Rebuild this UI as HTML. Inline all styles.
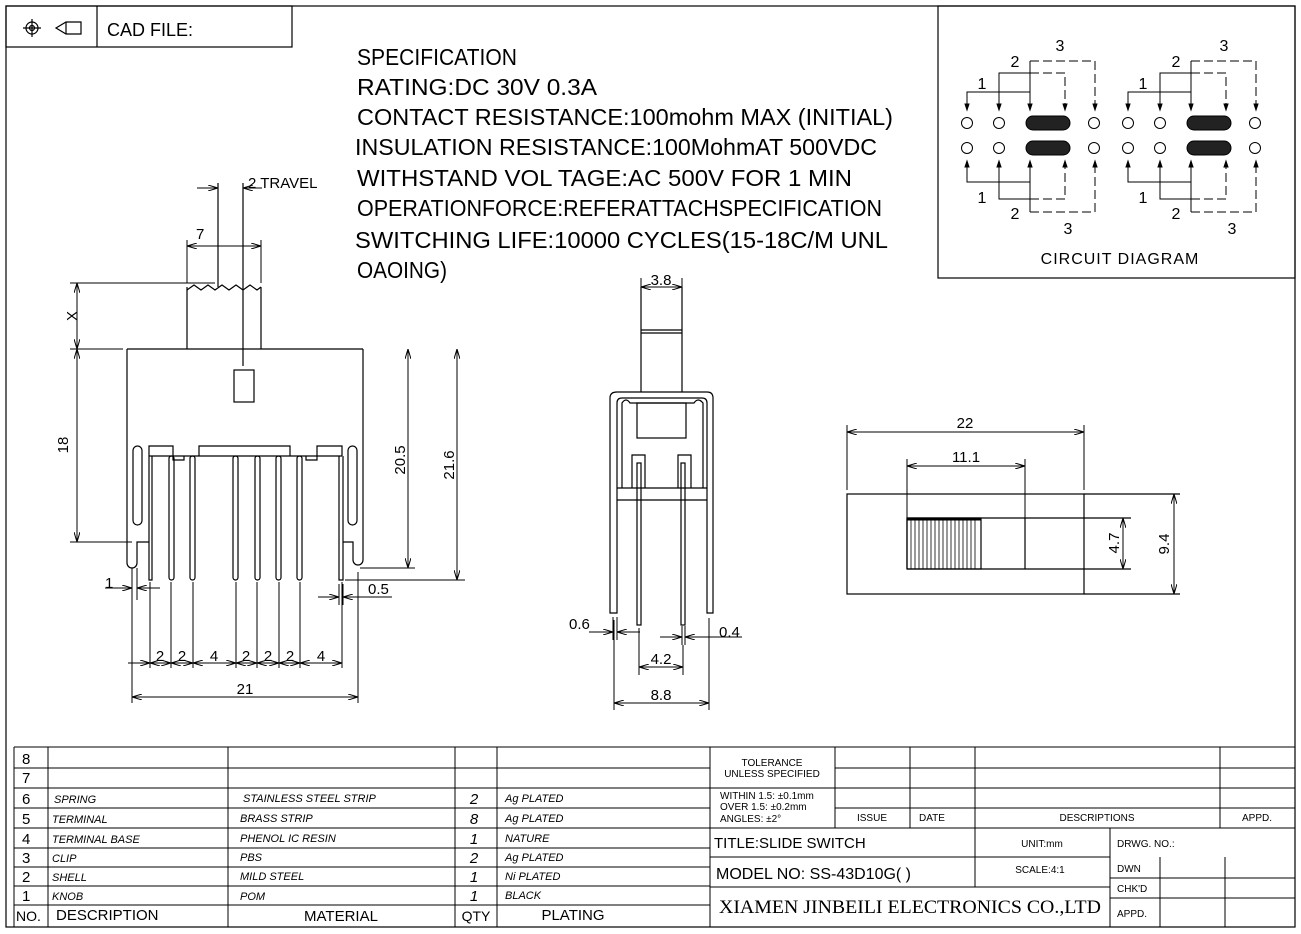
<!DOCTYPE html>
<html><head><meta charset="utf-8"><style>
html,body{margin:0;padding:0;background:#fff;}
svg{display:block;}
text{font-family:"Liberation Sans",sans-serif;fill:#000;}
</style></head><body>
<svg width="1301" height="934" viewBox="0 0 1301 934" xmlns="http://www.w3.org/2000/svg">
<defs>
<marker id="a" viewBox="0 0 10 6" refX="10" refY="3" markerWidth="10" markerHeight="6" markerUnits="userSpaceOnUse" orient="auto-start-reverse">
<path d="M0,0 L10,3 L0,6" fill="none" stroke="#000" stroke-width="1"/>
</marker>
</defs>
<g fill="none" stroke="#000" stroke-width="1.2">
<!-- frame -->
<rect x="6" y="6" width="1289" height="921"/>
<rect x="6" y="6" width="286" height="41"/>
<line x1="97" y1="6" x2="97" y2="47"/>
<rect x="938" y="6" width="357" height="272"/>
<!-- icons -->
<circle cx="32" cy="28" r="6"/><circle cx="32" cy="28" r="2.5"/>
<line x1="23" y1="28" x2="41" y2="28"/><line x1="32" y1="19" x2="32" y2="37"/>
<path d="M56,28 L66,22 H81 V34 H66 Z"/><line x1="66" y1="22" x2="66" y2="34"/>
</g>
<text x="107" y="36" font-size="18">CAD FILE:</text>

<!-- spec -->
<g font-size="23">
<text x="357" y="65" textLength="160" lengthAdjust="spacingAndGlyphs">SPECIFICATION</text>
<text x="357" y="95" textLength="240" lengthAdjust="spacingAndGlyphs">RATING:DC 30V 0.3A</text>
<text x="357" y="125" textLength="536" lengthAdjust="spacingAndGlyphs">CONTACT RESISTANCE:100mohm MAX (INITIAL)</text>
<text x="355" y="155" textLength="522" lengthAdjust="spacingAndGlyphs">INSULATION RESISTANCE:100MohmAT 500VDC</text>
<text x="357" y="186" textLength="495" lengthAdjust="spacingAndGlyphs">WITHSTAND VOL TAGE:AC 500V FOR 1 MIN</text>
<text x="357" y="216" textLength="525" lengthAdjust="spacingAndGlyphs">OPERATIONFORCE:REFERATTACHSPECIFICATION</text>
<text x="355" y="248" textLength="533" lengthAdjust="spacingAndGlyphs">SWITCHING LIFE:10000 CYCLES(15-18C/M UNL</text>
<text x="357" y="278" textLength="90" lengthAdjust="spacingAndGlyphs">OAOING)</text>
</g>

<!-- LEFT VIEW -->
<g fill="none" stroke="#000" stroke-width="1.2">
<line x1="127" y1="349" x2="363" y2="349"/>
<path d="M127,349 V563 A5,5 0 0 0 137,563 V542 H149"/>
<path d="M363,349 V560 A5,5 0 0 1 353,560 V542 H343"/>
<line x1="187" y1="287" x2="187" y2="349"/>
<line x1="261" y1="287" x2="261" y2="349"/>
<path d="M187,290 L194,285 L201,290 L208,285 L215,290 L222,285 L229,290 L236,285 L243,290 L250,285 L257,290 L261,287"/>
<line x1="243" y1="183" x2="243" y2="366"/>
<line x1="218" y1="183" x2="218" y2="287"/>
<rect x="234" y="370" width="20" height="32"/>
<!-- base -->
<path d="M149,456 V446 H173 V456 M173,456 V460 H184 V456 M199,456 V446 H290 V456 M306,456 V460 H317 V456 M317,456 V446 H342 V456"/>
<line x1="149" y1="456" x2="342" y2="456"/>
<rect x="133" y="446" width="9" height="79" rx="4.5"/>
<rect x="348" y="446" width="9" height="79" rx="4.5"/>
<path d="M149,456 V580 H152 V456"/>
<rect x="169" y="456" width="5" height="124" rx="2.5"/>
<rect x="190" y="456" width="5" height="124" rx="2.5"/>
<rect x="233" y="456" width="5" height="124" rx="2.5"/>
<rect x="255" y="456" width="5" height="124" rx="2.5"/>
<rect x="276" y="456" width="5" height="124" rx="2.5"/>
<rect x="297" y="456" width="5" height="124" rx="2.5"/>
<path d="M339,456 V580 H343 V456"/>
</g>
<g fill="none" stroke="#000" stroke-width="1">
<!-- travel / 7 / X dims -->
<line x1="197" y1="188" x2="218" y2="188" marker-end="url(#a)"/>
<line x1="262" y1="188" x2="243" y2="188" marker-end="url(#a)"/>
<line x1="187" y1="240" x2="187" y2="283"/><line x1="261" y1="240" x2="261" y2="283"/>
<line x1="187" y1="246" x2="261" y2="246" marker-start="url(#a)" marker-end="url(#a)"/>
<line x1="70" y1="283" x2="215" y2="283"/>
<line x1="70" y1="349" x2="123" y2="349"/>
<line x1="77" y1="283" x2="77" y2="349" marker-start="url(#a)" marker-end="url(#a)"/>
<line x1="77" y1="349" x2="77" y2="542" marker-start="url(#a)" marker-end="url(#a)"/>
<line x1="70" y1="542" x2="132" y2="542"/>
<line x1="408" y1="349" x2="408" y2="568" marker-start="url(#a)" marker-end="url(#a)"/>
<line x1="457" y1="349" x2="457" y2="580" marker-start="url(#a)" marker-end="url(#a)"/>
<line x1="360" y1="568" x2="415" y2="568"/>
<line x1="345" y1="580" x2="465" y2="580"/>
<!-- 1 and 0.5 -->
<line x1="132" y1="568" x2="132" y2="600"/><line x1="137" y1="568" x2="137" y2="600"/>
<line x1="105" y1="588" x2="132" y2="588" marker-end="url(#a)"/>
<line x1="160" y1="588" x2="137" y2="588" marker-end="url(#a)"/>
<line x1="339" y1="584" x2="339" y2="605"/><line x1="343" y1="584" x2="343" y2="605"/>
<line x1="318" y1="597" x2="339" y2="597" marker-end="url(#a)"/>
<line x1="392" y1="597" x2="343" y2="597" marker-end="url(#a)"/>
<!-- pin dims -->
<line x1="132" y1="582" x2="132" y2="703"/>
<line x1="150" y1="582" x2="150" y2="668"/>
<line x1="171" y1="582" x2="171" y2="668"/>
<line x1="193" y1="582" x2="193" y2="668"/>
<line x1="236" y1="582" x2="236" y2="668"/>
<line x1="257" y1="582" x2="257" y2="668"/>
<line x1="279" y1="582" x2="279" y2="668"/>
<line x1="300" y1="582" x2="300" y2="668"/>
<line x1="342" y1="582" x2="342" y2="668"/>
<line x1="358" y1="572" x2="358" y2="703"/>
<line x1="128" y1="663" x2="150" y2="663" marker-end="url(#a)"/>
<line x1="150" y1="663" x2="171" y2="663" marker-start="url(#a)" marker-end="url(#a)"/>
<line x1="171" y1="663" x2="193" y2="663" marker-start="url(#a)" marker-end="url(#a)"/>
<line x1="193" y1="663" x2="236" y2="663" marker-start="url(#a)" marker-end="url(#a)"/>
<line x1="236" y1="663" x2="257" y2="663" marker-start="url(#a)" marker-end="url(#a)"/>
<line x1="257" y1="663" x2="279" y2="663" marker-start="url(#a)" marker-end="url(#a)"/>
<line x1="279" y1="663" x2="300" y2="663" marker-start="url(#a)" marker-end="url(#a)"/>
<line x1="300" y1="663" x2="342" y2="663" marker-start="url(#a)" marker-end="url(#a)"/>
<line x1="132" y1="697" x2="358" y2="697" marker-start="url(#a)" marker-end="url(#a)"/>
</g>
<g font-size="15">
<text x="248" y="188">2 TRAVEL</text>
<text x="196" y="239">7</text>
<text x="73" y="316" transform="rotate(-90 73 316)" text-anchor="middle" dominant-baseline="middle">X</text>
<text x="68" y="445" transform="rotate(-90 68 445)" text-anchor="middle">18</text>
<text x="405" y="460" transform="rotate(-90 405 460)" text-anchor="middle">20.5</text>
<text x="454" y="465" transform="rotate(-90 454 465)" text-anchor="middle">21.6</text>
<text x="105" y="588">1</text>
<text x="368" y="594">0.5</text>
<text x="160" y="661" text-anchor="middle">2</text>
<text x="182" y="661" text-anchor="middle">2</text>
<text x="214" y="661" text-anchor="middle">4</text>
<text x="246" y="661" text-anchor="middle">2</text>
<text x="268" y="661" text-anchor="middle">2</text>
<text x="290" y="661" text-anchor="middle">2</text>
<text x="321" y="661" text-anchor="middle">4</text>
<text x="245" y="694" text-anchor="middle">21</text>
</g>

<!-- MIDDLE VIEW -->
<g fill="none" stroke="#000" stroke-width="1.2">
<path d="M641,392 V287 M682,287 V392"/>
<line x1="641" y1="330" x2="682" y2="330"/><line x1="641" y1="333" x2="682" y2="333"/>
<path d="M610,613 V398 Q610,392 617,392 H707 Q713,392 713,398 V613 H707 V403 Q707,398 702,398 H622 Q617,398 617,403 V613 Z"/>
<path d="M622,488 V403 Q626,397 630,403 L632,403 H692 L694,403 Q698,397 703,403 V488"/>
<rect x="637" y="403" width="49" height="35"/>
<line x1="617" y1="488" x2="707" y2="488"/>
<line x1="617" y1="500" x2="707" y2="500"/>
<path d="M632,488 V455 H645 V488 M678,488 V455 H691 V488"/>
<rect x="637" y="463" width="4" height="162"/>
<rect x="681" y="463" width="4" height="162"/>
</g>
<g fill="none" stroke="#000" stroke-width="1">
<line x1="641" y1="278" x2="641" y2="287"/><line x1="682" y1="278" x2="682" y2="287"/>
<line x1="641" y1="287" x2="682" y2="287" marker-start="url(#a)" marker-end="url(#a)"/>
<line x1="613" y1="617" x2="613" y2="640"/><line x1="617" y1="617" x2="617" y2="640"/>
<line x1="589" y1="632" x2="613" y2="632" marker-end="url(#a)"/>
<line x1="640" y1="632" x2="617" y2="632" marker-end="url(#a)"/>
<line x1="682" y1="626" x2="682" y2="645"/><line x1="685" y1="626" x2="685" y2="645"/>
<line x1="660" y1="637" x2="682" y2="637" marker-end="url(#a)"/>
<line x1="742" y1="637" x2="685" y2="637" marker-end="url(#a)"/>
<line x1="639" y1="628" x2="639" y2="675"/><line x1="683" y1="645" x2="683" y2="675"/>
<line x1="639" y1="667" x2="683" y2="667" marker-start="url(#a)" marker-end="url(#a)"/>
<line x1="614" y1="620" x2="614" y2="710"/><line x1="709" y1="618" x2="709" y2="710"/>
<line x1="614" y1="703" x2="709" y2="703" marker-start="url(#a)" marker-end="url(#a)"/>
</g>
<g font-size="15">
<text x="661" y="285" text-anchor="middle">3.8</text>
<text x="569" y="629">0.6</text>
<text x="719" y="637">0.4</text>
<text x="661" y="664" text-anchor="middle">4.2</text>
<text x="661" y="700" text-anchor="middle">8.8</text>
</g>

<!-- RIGHT VIEW -->
<g fill="none" stroke="#000" stroke-width="1.2">
<rect x="847" y="494" width="237" height="100"/>
<line x1="1084" y1="494" x2="1180" y2="494"/>
<line x1="1084" y1="594" x2="1180" y2="594"/>
<path d="M907,518 H1131 M907,569 H1131 M907,518 V569 M1025,518 V569"/>
<rect x="907" y="518" width="74" height="51"/>
<line x1="907" y1="519" x2="981" y2="519" stroke-width="3"/>
</g>
<g stroke="#000" stroke-width="0.8">
<line x1="911" y1="520" x2="911" y2="569"/><line x1="915" y1="520" x2="915" y2="569"/>
<line x1="919" y1="520" x2="919" y2="569"/><line x1="923" y1="520" x2="923" y2="569"/>
<line x1="927" y1="520" x2="927" y2="569"/><line x1="931" y1="520" x2="931" y2="569"/>
<line x1="935" y1="520" x2="935" y2="569"/><line x1="939" y1="520" x2="939" y2="569"/>
<line x1="943" y1="520" x2="943" y2="569"/><line x1="947" y1="520" x2="947" y2="569"/>
<line x1="951" y1="520" x2="951" y2="569"/><line x1="955" y1="520" x2="955" y2="569"/>
<line x1="959" y1="520" x2="959" y2="569"/><line x1="963" y1="520" x2="963" y2="569"/>
<line x1="967" y1="520" x2="967" y2="569"/><line x1="971" y1="520" x2="971" y2="569"/>
<line x1="975" y1="520" x2="975" y2="569"/>
</g>
<g fill="none" stroke="#000" stroke-width="1">
<line x1="847" y1="425" x2="847" y2="490"/><line x1="1084" y1="425" x2="1084" y2="490"/>
<line x1="847" y1="432" x2="1084" y2="432" marker-start="url(#a)" marker-end="url(#a)"/>
<line x1="907" y1="459" x2="907" y2="518"/><line x1="1025" y1="459" x2="1025" y2="518"/>
<line x1="907" y1="466" x2="1025" y2="466" marker-start="url(#a)" marker-end="url(#a)"/>
<line x1="1123" y1="518" x2="1123" y2="569" marker-start="url(#a)" marker-end="url(#a)"/>
<line x1="1174" y1="494" x2="1174" y2="594" marker-start="url(#a)" marker-end="url(#a)"/>
</g>
<g font-size="15">
<text x="965" y="428" text-anchor="middle">22</text>
<text x="966" y="462" text-anchor="middle">11.1</text>
<text x="1119" y="543" transform="rotate(-90 1119 543)" text-anchor="middle">4.7</text>
<text x="1169" y="544" transform="rotate(-90 1169 544)" text-anchor="middle">9.4</text>
</g>

<!-- CIRCUIT -->
<g id="cd" fill="none" stroke="#000" stroke-width="1">
<circle cx="967" cy="123" r="5.5"/><circle cx="999" cy="123" r="5.5"/><circle cx="1094" cy="123" r="5.5"/>
<circle cx="967" cy="148" r="5.5"/><circle cx="999" cy="148" r="5.5"/><circle cx="1094" cy="148" r="5.5"/>
<rect x="1026" y="116" width="44" height="14" rx="7" fill="#222"/>
<rect x="1026" y="141" width="44" height="14" rx="7" fill="#222"/>
<path d="M967,108 V92 H1030 M999,108 V73 H1030 M1030,108 V61"/>
<path d="M1030,73 H1065 V108 M1030,61 H1095 V108" stroke-dasharray="9,4"/>
<path d="M967,163 V182 H1030 M999,163 V199 H1030 M1030,163 V212"/>
<path d="M1030,199 H1065 V163 M1030,212 H1095 V163" stroke-dasharray="9,4"/>
<path d="M965,104 L967,110 L969,104 Z M997,104 L999,110 L1001,104 Z M1028,104 L1030,110 L1032,104 Z M1063,104 L1065,110 L1067,104 Z M1093,104 L1095,110 L1097,104 Z" fill="#000"/>
<path d="M965,167 L967,161 L969,167 Z M997,167 L999,161 L1001,167 Z M1028,167 L1030,161 L1032,167 Z M1063,167 L1065,161 L1067,167 Z M1093,167 L1095,161 L1097,167 Z" fill="#000"/>
</g>
<use href="#cd" transform="translate(161,0)"/>
<g font-size="16">
<text x="982" y="89" text-anchor="middle">1</text><text x="1015" y="67" text-anchor="middle">2</text><text x="1060" y="51" text-anchor="middle">3</text>
<text x="982" y="203" text-anchor="middle">1</text><text x="1015" y="219" text-anchor="middle">2</text><text x="1068" y="234" text-anchor="middle">3</text>
<text x="1143" y="89" text-anchor="middle">1</text><text x="1176" y="67" text-anchor="middle">2</text><text x="1224" y="51" text-anchor="middle">3</text>
<text x="1143" y="203" text-anchor="middle">1</text><text x="1176" y="219" text-anchor="middle">2</text><text x="1232" y="234" text-anchor="middle">3</text>
<text x="1120" y="264" text-anchor="middle" letter-spacing="1">CIRCUIT  DIAGRAM</text>
</g>

<!-- BOTTOM TABLE -->
<g fill="none" stroke="#000" stroke-width="1">
<line x1="14" y1="747" x2="1295" y2="747"/>
<line x1="14" y1="747" x2="14" y2="927"/>
<path d="M14,768 H710 M14,788 H710 M14,808 H710 M14,828 H710 M14,848 H710 M14,867 H710 M14,886 H710 M14,905 H710"/>
<path d="M48,747 V927 M228,747 V927 M455,747 V927 M497,747 V927 M710,747 V927"/>
<path d="M835,768 H1295 M710,788 H1295 M835,808 H1295 M710,828 H1295 M710,857 H1110 M710,887 H1110 M1110,878 H1295 M1110,898 H1295 M975,857 H1110"/>
<path d="M835,747 V828 M910,747 V828 M975,747 V887 M1220,747 V828 M1110,828 V927 M1160,857 V927 M1225,857 V927"/>
</g>
<g font-size="15">
<text x="22" y="764">8</text><text x="22" y="783">7</text><text x="22" y="804">6</text>
<text x="22" y="824">5</text><text x="22" y="844">4</text><text x="22" y="863">3</text>
<text x="22" y="882">2</text><text x="22" y="901">1</text>
<text x="16" y="921" font-size="14">NO.</text>
<text x="56" y="920" font-size="15">DESCRIPTION</text>
<text x="341" y="921" text-anchor="middle">MATERIAL</text>
<text x="476" y="921" text-anchor="middle" font-size="14">QTY</text>
<text x="573" y="920" text-anchor="middle">PLATING</text>
<text x="474" y="804" font-style="italic" text-anchor="middle">2</text>
<text x="474" y="824" font-style="italic" text-anchor="middle">8</text>
<text x="474" y="844" font-style="italic" text-anchor="middle">1</text>
<text x="474" y="863" font-style="italic" text-anchor="middle">2</text>
<text x="474" y="882" font-style="italic" text-anchor="middle">1</text>
<text x="474" y="901" font-style="italic" text-anchor="middle">1</text>
</g>
<g font-size="11" font-style="italic">
<text x="54" y="803">SPRING</text><text x="52" y="823">TERMINAL</text><text x="52" y="843">TERMINAL BASE</text>
<text x="52" y="862">CLIP</text><text x="52" y="881">SHELL</text><text x="52" y="900">KNOB</text>
<text x="243" y="802">STAINLESS STEEL STRIP</text><text x="240" y="822">BRASS STRIP</text><text x="240" y="842">PHENOL IC RESIN</text>
<text x="240" y="861">PBS</text><text x="240" y="880">MILD STEEL</text><text x="240" y="900">POM</text>
<text x="505" y="802">Ag PLATED</text><text x="505" y="822">Ag PLATED</text><text x="505" y="842">NATURE</text>
<text x="505" y="861">Ag PLATED</text><text x="505" y="880">Ni PLATED</text><text x="505" y="899">BLACK</text>
</g>
<g font-size="10">
<text x="772" y="766" text-anchor="middle">TOLERANCE</text>
<text x="772" y="777" text-anchor="middle">UNLESS SPECIFIED</text>
<text x="720" y="799">WITHIN 1.5: ±0.1mm</text>
<text x="720" y="810">OVER 1.5:  ±0.2mm</text>
<text x="720" y="822">ANGLES: ±2°</text>
<text x="872" y="821" text-anchor="middle">ISSUE</text>
<text x="932" y="821" text-anchor="middle">DATE</text>
<text x="1097" y="821" text-anchor="middle">DESCRIPTIONS</text>
<text x="1257" y="821" text-anchor="middle">APPD.</text>
<text x="1042" y="847" text-anchor="middle">UNIT:mm</text>
<text x="1040" y="873" text-anchor="middle">SCALE:4:1</text>
<text x="1117" y="847">DRWG. NO.:</text>
<text x="1117" y="872">DWN</text>
<text x="1117" y="892">CHK'D</text>
<text x="1117" y="917">APPD.</text>
</g>
<text x="714" y="848" font-size="15">TITLE:SLIDE  SWITCH</text>
<text x="716" y="879" font-size="16">MODEL  NO: SS-43D10G(  )</text>
<text x="910" y="913" font-size="19" text-anchor="middle" style="font-family:'Liberation Serif',serif" textLength="382" lengthAdjust="spacingAndGlyphs">XIAMEN JINBEILI ELECTRONICS CO.,LTD</text>
</svg>
</body></html>
